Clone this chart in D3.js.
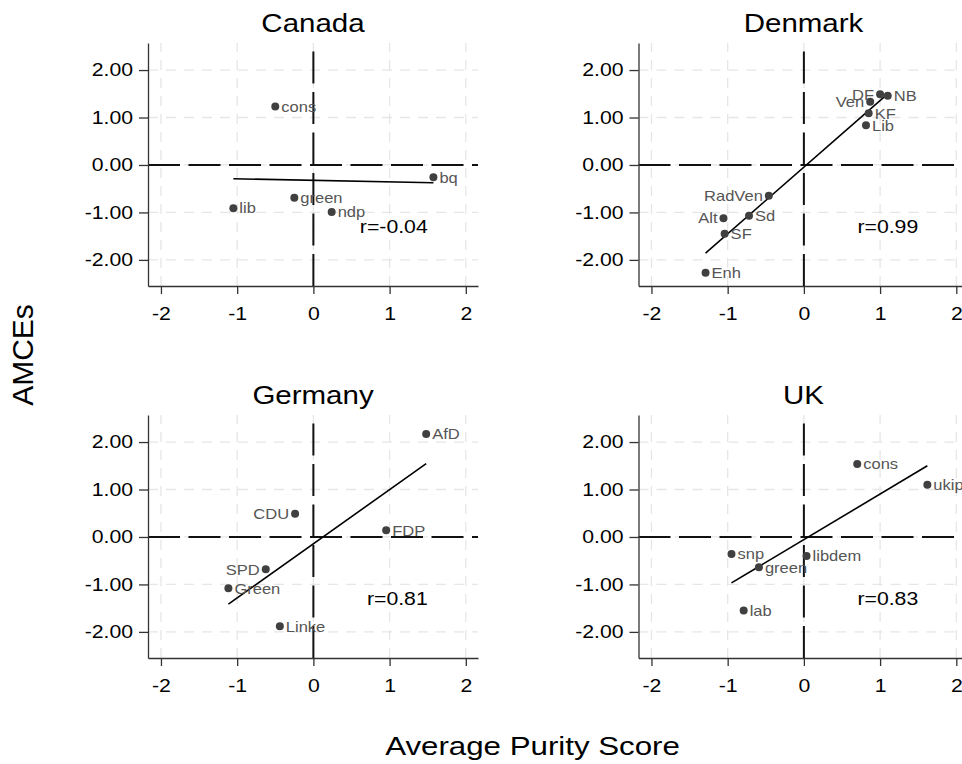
<!DOCTYPE html>
<html>
<head>
<meta charset="utf-8">
<script src="https://cdn.jsdelivr.net/npm/d3@7"></script>
<style>
  body { margin: 0; background: #fff; }
  svg { display: block; font-family: "Liberation Sans", Arial, sans-serif; }
</style>
</head>
<body>
<script>
// values
const countries = ['Canada', 'Denmark', 'Germany', 'UK'];

const canadaParties = ['cons', 'bq', 'green', 'lib', 'ndp'];
const canadaPurity = [-0.50, 1.575, -0.25, -1.05, 0.24];
const canadaAmce = [1.23, -0.26, -0.69, -0.91, -0.99];

const denmarkParties = ['DF', 'NB', 'Ven', 'KF', 'Lib', 'RadVen', 'Sd', 'Alt', 'SF', 'Enh'];
const denmarkPurity = [1.00, 1.10, 0.87, 0.85, 0.815, -0.46, -0.72, -1.055, -1.04, -1.29];
const denmarkAmce = [1.49, 1.46, 1.33, 1.09, 0.835, -0.65, -1.07, -1.12, -1.45, -2.27];

const germanyParties = ['AfD', 'CDU', 'FDP', 'SPD', 'Green', 'Linke'];
const germanyPurity = [1.48, -0.24, 0.955, -0.625, -1.115, -0.44];
const germanyAmce = [2.17, 0.49, 0.14, -0.68, -1.08, -1.88];

const ukParties = ['cons', 'ukip', 'snp', 'libdem', 'green', 'lab'];
const ukPurity = [0.70, 1.62, -0.95, 0.035, -0.59, -0.79];
const ukAmce = [1.54, 1.10, -0.36, -0.40, -0.64, -1.55];

const rLabels = ['r=-0.04', 'r=0.99', 'r=0.81', 'r=0.83'];
const xTicks = [-2, -1, 0, 1, 2];
const yTicks = [-2, -1, 0, 1, 2];

// labels that sit on the left of their marker
const leftLabels = {
    Denmark: ['DF', 'Ven', 'RadVen', 'Alt'],
    Germany: ['CDU', 'SPD'],
};

const panels = [
    [canadaParties, canadaPurity, canadaAmce],
    [denmarkParties, denmarkPurity, denmarkAmce],
    [germanyParties, germanyPurity, germanyAmce],
    [ukParties, ukPurity, ukAmce],
];

// layout
const SX = 1.18; // the reference's text is drawn wide
const panelLeft = [148, 638.5];
const panelTop = [43, 415];
const plotW = 330;
const plotH = 243;
const xDomain = [-2.17, 2.16];
const yDomain = [-2.55, 2.57];
const rPos = [1.5, -1.3];

const svg = d3.select('body').append('svg')
    .attr('width', 962)
    .attr('height', 764);

function fit(xs, ys) {
    const mx = d3.mean(xs);
    const my = d3.mean(ys);
    const sxy = d3.sum(xs, (v, i) => (v - mx) * (ys[i] - my));
    const sxx = d3.sum(xs, v => (v - mx) * (v - mx));
    const b = sxy / sxx;
    return { a: my - b * mx, b };
}

panels.forEach(([parties, purity, amce], i) => {
    const country = countries[i];
    const ox = panelLeft[i % 2];
    const oy = panelTop[Math.floor(i / 2)];

    const x = d3.scaleLinear().domain(xDomain).range([ox, ox + plotW]);
    const y = d3.scaleLinear().domain(yDomain).range([oy + plotH, oy]);

    const g = svg.append('g');

    // light dashed grid
    g.selectAll('line.gx')
        .data(xTicks)
        .join('line')
        .attr('class', 'gx')
        .attr('x1', d => x(d)).attr('x2', d => x(d))
        .attr('y1', oy + plotH).attr('y2', oy)
        .attr('stroke', '#e6e6e6')
        .attr('stroke-width', 1.3)
        .attr('stroke-dasharray', '10,8');

    g.selectAll('line.gy')
        .data(yTicks)
        .join('line')
        .attr('class', 'gy')
        .attr('x1', ox).attr('x2', ox + plotW)
        .attr('y1', d => y(d)).attr('y2', d => y(d))
        .attr('stroke', '#e6e6e6')
        .attr('stroke-width', 1.3)
        .attr('stroke-dasharray', '10,8');

    // zero reference lines
    g.append('line')
        .attr('x1', ox).attr('x2', ox + plotW)
        .attr('y1', y(0)).attr('y2', y(0))
        .attr('stroke', '#111')
        .attr('stroke-width', 2)
        .attr('stroke-dasharray', '32,8.5');

    g.append('line')
        .attr('x1', x(0)).attr('x2', x(0))
        .attr('y1', oy + plotH).attr('y2', oy)
        .attr('stroke', '#111')
        .attr('stroke-width', 2)
        .attr('stroke-dasharray', '32,8.5');

    // fitted line over the range of the parties
    const { a, b } = fit(purity, amce);
    const [x0, x1] = d3.extent(purity);
    g.append('line')
        .attr('x1', x(x0)).attr('y1', y(a + b * x0))
        .attr('x2', x(x1)).attr('y2', y(a + b * x1))
        .attr('stroke', '#000')
        .attr('stroke-width', 1.6);

    // parties
    const pts = parties.map((p, k) => ({ p, px: purity[k], am: amce[k] }));
    const lefts = leftLabels[country] || [];

    g.selectAll('circle')
        .data(pts)
        .join('circle')
        .attr('cx', d => x(d.px))
        .attr('cy', d => y(d.am))
        .attr('r', 4)
        .attr('fill', '#404040');

    g.selectAll('text.lab')
        .data(pts)
        .join('text')
        .attr('class', 'lab')
        .attr('transform', (d) => {
            const left = lefts.includes(d.p);
            return `translate(${x(d.px) + (left ? -6 : 6)},${y(d.am) + 5.3}) scale(${SX},1)`;
        })
        .attr('text-anchor', d => (lefts.includes(d.p) ? 'end' : 'start'))
        .attr('font-size', 14)
        .attr('fill', '#555')
        .text(d => d.p);

    // correlation
    g.append('text')
        .attr('transform', `translate(${x(rPos[0])},${y(rPos[1]) + 6.3}) scale(${SX},1)`)
        .attr('text-anchor', 'end')
        .attr('font-size', 18)
        .attr('fill', '#000')
        .text(rLabels[i]);

    // axes
    const xa = g.append('g')
        .attr('transform', `translate(0,${oy + plotH})`)
        .call(d3.axisBottom(x).tickValues(xTicks).tickFormat(d => String(d))
            .tickSize(8).tickSizeOuter(0).tickPadding(13.5));

    const ya = g.append('g')
        .attr('transform', `translate(${ox},0)`)
        .call(d3.axisLeft(y).tickValues(yTicks).tickFormat(d => d.toFixed(2))
            .tickSize(9).tickSizeOuter(0).tickPadding(6));

    [xa, ya].forEach((a) => {
        a.select('.domain').attr('stroke', '#333').attr('stroke-width', 1.3);
        a.selectAll('.tick line').attr('stroke', '#333').attr('stroke-width', 1.3);
        a.selectAll('.tick text')
            .attr('font-size', 18)
            .attr('font-family', '"Liberation Sans", Arial, sans-serif')
            .attr('fill', '#000');
    });
    xa.selectAll('.tick text').attr('transform', `scale(${SX},1)`);
    ya.selectAll('.tick text')
        .attr('x', -15 / SX)
        .attr('transform', `scale(${SX},1)`);

    // panel title
    g.append('text')
        .attr('transform', `translate(${ox + plotW / 2},${oy - 11}) scale(${SX},1)`)
        .attr('text-anchor', 'middle')
        .attr('font-size', 25)
        .attr('fill', '#000')
        .text(country);
});

// shared axis titles
svg.append('text')
    .attr('transform', 'translate(33,355) rotate(-90)')
    .attr('text-anchor', 'middle')
    .attr('font-size', 30)
    .attr('fill', '#000')
    .text('AMCEs');

svg.append('text')
    .attr('transform', `translate(532.5,755) scale(${SX},1)`)
    .attr('text-anchor', 'middle')
    .attr('font-size', 26.5)
    .attr('fill', '#000')
    .text('Average Purity Score');
</script>
</body>
</html>
